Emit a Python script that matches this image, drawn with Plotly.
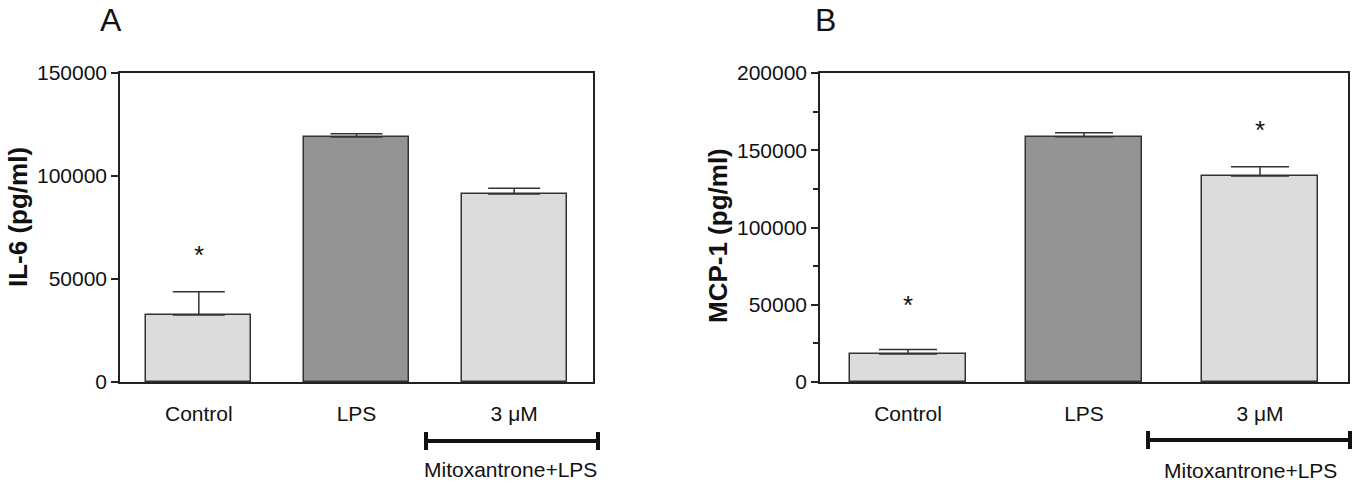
import plotly.graph_objects as go

# ---------------- data ----------------
categories = ["Control", "LPS", "3 μM"]
il6_mean = [32500, 118900, 91300]
il6_err = [11300, 1600, 2800]
mcp1_mean = [18200, 158700, 133300]
mcp1_err = [2800, 2700, 6000]
bar_colors = ["#dcdcdc", "#949494", "#dcdcdc"]
il6_ticks = [0, 50000, 100000, 150000]
mcp1_ticks = [0, 50000, 100000, 150000, 200000]
il6_star_y = [61500]          # asterisk above Control (panel A)
mcp1_star_y = [50000, 163000]  # asterisks above Control and 3 μM (panel B)

W, H = 1360, 489
FONT = "Liberation Sans, Arial, sans-serif"
LINE = "#222222"

def px(x):
    return x / W

def py(y):
    return 1 - y / H

xpos = list(range(len(categories)))

fig = go.Figure()
fig.add_trace(go.Bar(
    x=xpos, y=il6_mean, width=0.667,
    marker=dict(color=bar_colors, line=dict(color="#333333", width=1.5)),
    error_y=dict(type="data", symmetric=False, array=il6_err,
                 arrayminus=[0] * len(il6_err), color="#333333",
                 thickness=1.5, width=26),
    xaxis="x", yaxis="y", showlegend=False, hoverinfo="skip"))
fig.add_trace(go.Bar(
    x=xpos, y=mcp1_mean, width=0.663,
    marker=dict(color=bar_colors, line=dict(color="#333333", width=1.5)),
    error_y=dict(type="data", symmetric=False, array=mcp1_err,
                 arrayminus=[0] * len(mcp1_err), color="#333333",
                 thickness=1.5, width=29),
    xaxis="x2", yaxis="y2", showlegend=False, hoverinfo="skip"))

ydom = [py(382), py(73)]
common_x = dict(range=[-0.5, 2.5], tickvals=xpos, ticktext=categories,
                showline=True, linecolor=LINE, linewidth=1.5, mirror=True,
                ticks="", showgrid=False, zeroline=False, automargin=False,
                tickfont=dict(family=FONT, size=21, color="#111"),
                ticklabelstandoff=12, fixedrange=True)
common_y = dict(showline=True, linecolor=LINE, linewidth=1.5, mirror=True,
                ticks="outside", ticklen=7, tickwidth=1.5, tickcolor=LINE,
                showgrid=False, zeroline=False, tickformat="d", automargin=False,
                tickfont=dict(family=FONT, size=21, color="#111"),
                fixedrange=True)

fig.update_layout(
    template="none",
    width=W, height=H, margin=dict(l=0, r=0, t=0, b=0, autoexpand=False),
    paper_bgcolor="white", plot_bgcolor="white",
    bargap=0,
    xaxis=dict(domain=[px(120), px(593)], anchor="y", **common_x),
    yaxis=dict(domain=ydom, anchor="x", range=[0, 150000],
               tickvals=il6_ticks, **common_y),
    xaxis2=dict(domain=[px(820), px(1348)], anchor="y2", **common_x),
    yaxis2=dict(domain=ydom, anchor="x2", range=[0, 200000],
                tickvals=mcp1_ticks,
                minor=dict(dtick=25000, ticks="outside", ticklen=5,
                           tickwidth=1.5, tickcolor=LINE),
                **common_y),
)

def note(text, x, y, size, xref="paper", yref="paper", angle=0):
    return dict(text=text, x=x, y=y, xref=xref, yref=yref, showarrow=False,
                xanchor="center", yanchor="middle", textangle=angle,
                font=dict(family=FONT, size=size, color="#111"))

ann = [
    note("A", px(111), py(20), 32),
    note("B", px(826), py(20), 32),
    note("<b>IL-6 (pg/ml)</b>", px(18), py(217), 26, angle=-90),
    note("<b>MCP-1 (pg/ml)</b>", px(718), py(236), 26, angle=-90),
    note("*", 0, il6_star_y[0], 26, xref="x", yref="y"),
    note("*", 0, mcp1_star_y[0], 26, xref="x2", yref="y2"),
    note("*", 2, mcp1_star_y[1], 26, xref="x2", yref="y2"),
    note("Mitoxantrone+LPS", px(510), py(469), 21),
    note("Mitoxantrone+LPS", px(1250), py(470), 21),
]

shapes = []
for (x0, x1, yl) in [(426, 598, 441), (1148, 1350, 440)]:
    shapes.append(dict(type="line", xref="paper", yref="paper",
                       x0=px(x0), x1=px(x1), y0=py(yl), y1=py(yl),
                       line=dict(color="#111", width=4)))
    for xe in (x0, x1):
        shapes.append(dict(type="line", xref="paper", yref="paper",
                           x0=px(xe), x1=px(xe), y0=py(yl - 9), y1=py(yl + 9),
                           line=dict(color="#111", width=4)))

fig.update_layout(annotations=ann, shapes=shapes)
fig.write_html("out.html")
